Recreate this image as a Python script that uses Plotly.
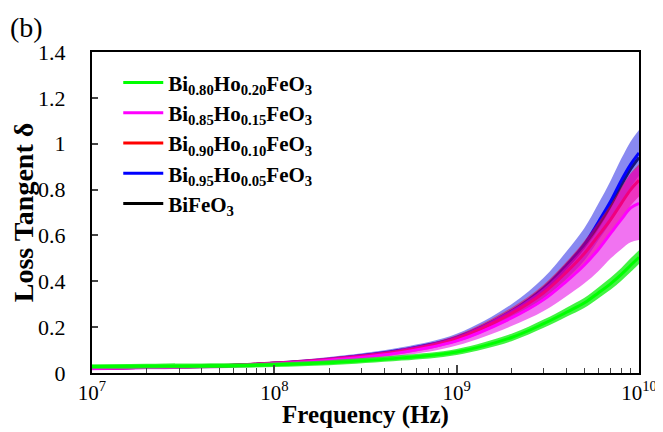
import plotly.graph_objects as go

freq = [1e7, 2e7, 5e7, 1e8, 2e8, 5e8, 1e9, 2e9, 3e9, 4e9, 5e9, 6e9, 7e9, 8e9, 9e9, 1e10]

green = [0.028, 0.030, 0.032, 0.036, 0.045, 0.066, 0.092, 0.155, 0.215, 0.265, 0.305, 0.35, 0.39, 0.43, 0.47, 0.505]
green_spread = [0.010, 0.010, 0.010, 0.010, 0.011, 0.012, 0.013, 0.016, 0.018, 0.02, 0.022, 0.024, 0.026, 0.028, 0.03, 0.03]

magenta = [0.020, 0.024, 0.030, 0.040, 0.056, 0.09, 0.14, 0.24, 0.32, 0.40, 0.47, 0.54, 0.61, 0.67, 0.72, 0.74]
magenta_spread = [0.008, 0.008, 0.009, 0.01, 0.012, 0.015, 0.02, 0.035, 0.05, 0.065, 0.08, 0.095, 0.11, 0.13, 0.15, 0.16]

red = [0.020, 0.025, 0.031, 0.042, 0.058, 0.095, 0.15, 0.26, 0.35, 0.44, 0.52, 0.60, 0.67, 0.74, 0.80, 0.84]
red_spread = [0.006, 0.006, 0.007, 0.008, 0.01, 0.012, 0.015, 0.025, 0.035, 0.045, 0.055, 0.06, 0.065, 0.07, 0.07, 0.07]

blue = [0.020, 0.025, 0.031, 0.042, 0.060, 0.10, 0.155, 0.27, 0.37, 0.47, 0.56, 0.66, 0.75, 0.84, 0.91, 0.96]
blue_spread = [0.006, 0.006, 0.007, 0.008, 0.01, 0.012, 0.016, 0.03, 0.045, 0.06, 0.07, 0.08, 0.09, 0.095, 0.1, 0.1]

black = [0.020, 0.025, 0.031, 0.042, 0.059, 0.098, 0.152, 0.265, 0.36, 0.46, 0.55, 0.64, 0.73, 0.82, 0.89, 0.94]

names = ["Bi<sub>0.80</sub>Ho<sub>0.20</sub>FeO<sub>3</sub>",
         "Bi<sub>0.85</sub>Ho<sub>0.15</sub>FeO<sub>3</sub>",
         "Bi<sub>0.90</sub>Ho<sub>0.10</sub>FeO<sub>3</sub>",
         "Bi<sub>0.95</sub>Ho<sub>0.05</sub>FeO<sub>3</sub>",
         "BiFeO<sub>3</sub>"]

xticks = [1e7, 1e8, 1e9, 1e10]
xticktext = ["10<sup>7</sup>", "10<sup>8</sup>", "10<sup>9</sup>", "10<sup>10</sup>"]
xminor = [m * 10 ** e for e in (7, 8, 9) for m in range(2, 10)]
yticks = [0, 0.2, 0.4, 0.6, 0.8, 1.0, 1.2, 1.4]
yticktext = ["0", "0.2", "0.4", "0.6", "0.8", "1", "1.2", "1.4"]

fig = go.Figure()

series = [
    (black, None, "#000000", None, names[4], 5),
    (blue, blue_spread, "#0000ff", "rgba(40,40,230,0.55)", names[3], 4),
    (red, red_spread, "#ff0000", "rgba(240,0,60,0.55)", names[2], 3),
    (magenta, magenta_spread, "#ff00ff", "rgba(230,0,230,0.55)", names[1], 2),
    (green, green_spread, "#00ff00", "rgba(20,240,20,0.8)", names[0], 1),
]

for vals, spread, col, fillcol, nm, rank in series:
    if spread is not None:
        upper = [v + s for v, s in zip(vals, spread)]
        lower = [v - s for v, s in zip(vals, spread)]
        fig.add_trace(go.Scatter(x=freq, y=upper, mode="lines", line=dict(width=0, shape="spline"),
                                 showlegend=False, hoverinfo="skip"))
        fig.add_trace(go.Scatter(x=freq, y=lower, mode="lines", line=dict(width=0, shape="spline"),
                                 fill="tonexty", fillcolor=fillcol, showlegend=False, hoverinfo="skip"))
    fig.add_trace(go.Scatter(x=freq, y=vals, mode="lines", name=nm, legendrank=rank,
                             line=dict(color=col, width=3, shape="spline")))

# page body has an 8px margin, so the figure is 8px smaller than the window
fig.update_layout(
    width=655, height=424,
    margin=dict(l=84, r=24, t=44, b=59),
    paper_bgcolor="white", plot_bgcolor="white",
    font=dict(family="Liberation Serif", color="black", size=22),
    showlegend=True,
    legend=dict(x=0.048, y=0.968, xanchor="left", yanchor="top", traceorder="normal",
                bgcolor="rgba(0,0,0,0)", font=dict(size=21, weight="bold"),
                tracegroupgap=0, itemwidth=40),
    xaxis=dict(type="log", range=[7, 10], tickvals=xticks, ticktext=xticktext, automargin=False,
               ticks="inside", ticklen=8, tickwidth=1.5, showgrid=False, zeroline=False,
               showline=True, linecolor="black", linewidth=2, mirror=True,
               minor=dict(tickvals=xminor, ticks="inside", ticklen=5, tickwidth=1, showgrid=False),
               tickfont=dict(size=21)),
    yaxis=dict(range=[0, 1.4], tickvals=yticks, ticktext=yticktext, automargin=False,
               ticks="inside", ticklen=6, tickwidth=1.5, showgrid=False, zeroline=False,
               showline=True, linecolor="black", linewidth=2, mirror=True,
               ticklabelstandoff=20,
               title=dict(text="Loss Tangent δ", font=dict(size=28, weight="bold"), standoff=2),
               tickfont=dict(size=22)),
    annotations=[
        dict(text="(b)", x=0, y=1, xref="paper", yref="paper", xshift=-84, yshift=42,
             xanchor="left", yanchor="top", showarrow=False, font=dict(size=28)),
        dict(text="<b>Frequency (Hz)</b>", x=0.5, y=0, xref="paper", yref="paper", yshift=-58,
             xanchor="center", yanchor="bottom", showarrow=False, font=dict(size=25)),
    ],
)

fig.write_html("out.html")
